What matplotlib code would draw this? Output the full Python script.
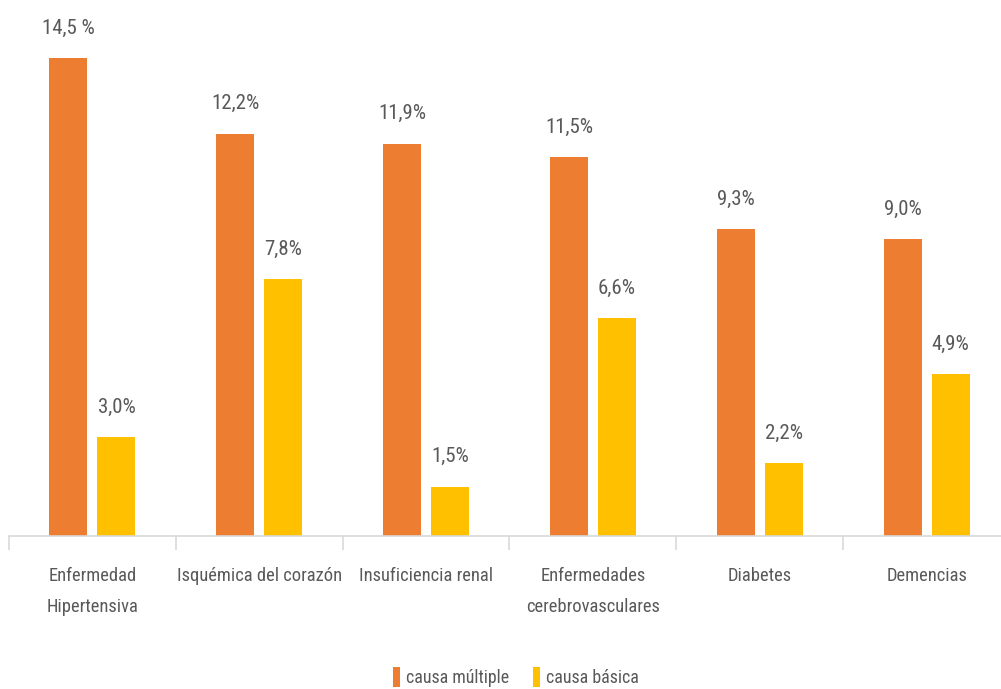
import matplotlib
matplotlib.use('Agg')
import matplotlib.pyplot as plt
import numpy as np
from matplotlib import font_manager

# Data
categories = ["Enfermedad\nHipertensiva", "Isquémica del corazón", "Insuficiencia renal",
              "Enfermedades\ncerebrovasculares", "Diabetes", "Demencias"]
multiple = [14.5, 12.2, 11.9, 11.5, 9.3, 9.0]
basica = [3.0, 7.8, 1.5, 6.6, 2.2, 4.9]
multiple_labels = ["14,5 %", "12,2%", "11,9%", "11,5%", "9,3%", "9,0%"]
basica_labels = ["3,0%", "7,8%", "1,5%", "6,6%", "2,2%", "4,9%"]

# pick a condensed font if one is around, else a plain sans
fonts = font_manager.fontManager.ttflist
family, stretch = 'Liberation Sans', 'normal'
for cand in ['Liberation Sans Narrow', 'Roboto Condensed', 'Open Sans Condensed',
             'DejaVu Sans Condensed', 'Noto Sans Condensed']:
    if any(f.name == cand for f in fonts):
        family = cand
        break
else:
    for f in fonts:
        if f.name in ('DejaVu Sans', 'Noto Sans', 'Open Sans', 'Roboto') and \
                str(f.stretch) in ('condensed', 'semi-condensed', '75', '87.5'):
            family, stretch = f.name, 'condensed'
            break
plt.rcParams['font.family'] = [family, 'DejaVu Sans']
plt.rcParams['font.stretch'] = stretch

W, H = 1001, 689
fig = plt.figure(figsize=(W / 100, H / 100), dpi=100)
renderer = fig.canvas.get_renderer()


def fit_size(s, target_px, base=14):
    t = fig.text(0, 0, s, fontsize=base)
    w = t.get_window_extent(renderer).width
    t.remove()
    return base * target_px / w


# a bit taller than a pure width fit, the original font is narrower
size_lab = fit_size("12,2%", 44) * 1.1
size_cat = fit_size("Isquémica del corazón", 153) * 1.08
size_leg = fit_size("causa múltiple", 102) * 1.02

# axes spans pixel x 9..1010, y 0..536
ax = fig.add_axes([9 / W, (H - 536) / H, 1001 / W, 536 / H])

x = np.arange(len(categories))
off = 0.144
bw = 0.228
orange = '#ED7D31'
yellow = '#FFC000'
txt = '#595959'

b1 = ax.bar(x - off, multiple, bw, color=orange, label='causa múltiple')
b2 = ax.bar(x + off, basica, bw, color=yellow, label='causa básica')

for xi, v, s in zip(x - off, multiple, multiple_labels):
    ax.text(xi, v + 0.62, s, ha='center', va='bottom', fontsize=size_lab, color=txt)
for xi, v, s in zip(x + off, basica, basica_labels):
    ax.text(xi, v + 0.62, s, ha='center', va='bottom', fontsize=size_lab, color=txt)

ax.set_xlim(-0.5, len(categories) - 0.5)
ax.set_ylim(0, 536 / 32.97)

for sp in ['top', 'right', 'left']:
    ax.spines[sp].set_visible(False)
ax.spines['bottom'].set_color('#D9D9D9')
ax.spines['bottom'].set_linewidth(1.2)
ax.set_yticks([])

ax.set_xticks(np.arange(len(categories) + 1) - 0.5)
ax.set_xticklabels([])
ax.tick_params(axis='x', length=10, color='#D9D9D9', width=1.2)
ax.set_xticks(x, minor=True)
ax.set_xticklabels(categories, minor=True, fontsize=size_cat, color=txt,
                   linespacing=43 / (size_cat * 100 / 72 * 1.17))
ax.tick_params(axis='x', which='minor', length=0, pad=22)

fig.legend(handles=[b1, b2], loc='center', bbox_to_anchor=(516 / W, 1 - 677 / H),
           ncol=2, frameon=False, fontsize=size_leg, labelcolor=txt,
           handlelength=0.4, handleheight=1.3, handletextpad=0.35, columnspacing=1.3)

fig.savefig('out.png', dpi=100, facecolor='white')
